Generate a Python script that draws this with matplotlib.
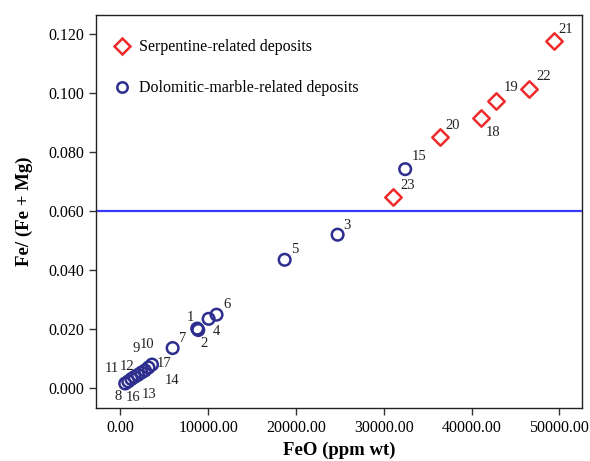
import matplotlib
matplotlib.use("Agg")
import matplotlib.pyplot as plt
from matplotlib.lines import Line2D

# données
serp_labels = ["23", "20", "18", "19", "22", "21"]
serp_feo = [31100, 36400, 41020, 42810, 46590, 49340]
serp_ratio = [0.0646, 0.0849, 0.0915, 0.0973, 0.1013, 0.1174]

dolo_labels = ["8", "11", "16", "12", "13", "9", "10", "14", "17",
               "7", "1", "2", "4", "6", "5", "3", "15"]
dolo_feo = [550, 900, 1250, 1600, 2000, 2400, 2800, 3200, 3600,
            5950, 8750, 8870, 10050, 10950, 18710, 24740, 32440]
dolo_ratio = [0.0015, 0.0022, 0.0030, 0.0037, 0.0044, 0.0052, 0.0059, 0.0069, 0.0079,
              0.0135, 0.0201, 0.0196, 0.0234, 0.0248, 0.0434, 0.0519, 0.0741]

threshold = 0.060
x_ticks = [0, 10000, 20000, 30000, 40000, 50000]
y_ticks = [0.000, 0.020, 0.040, 0.060, 0.080, 0.100, 0.120]

# décalage des étiquettes (pixels)
label_offset = {
    "8": (-7, -13), "11": (-16, 13), "16": (2, -18), "12": (-7, 10),
    "13": (11, -20), "9": (-5, 24), "10": (2, 26), "14": (24, -13),
    "17": (12, 1), "7": (10, 10), "1": (-7, 11), "2": (6, -13),
    "4": (8, -13), "6": (10, 10), "5": (10, 10), "3": (9, 9),
    "15": (14, 13), "23": (14, 12), "20": (13, 12), "18": (13, -15),
    "19": (15, 13), "22": (14, 12), "21": (12, 12),
}

plt.rcParams["font.family"] = ["Liberation Serif", "DejaVu Serif"]

RED = "#ee2a2a"
NAVY = "#2e2e8f"

fig = plt.figure(figsize=(5.9, 4.61), dpi=100)
ax = fig.add_axes([0.163, 0.115, 0.823, 0.853])

ax.axhline(threshold, color="#3a3aff", linewidth=1.6, zorder=1)

ax.scatter(serp_feo, serp_ratio, marker="D", s=70, facecolors="white",
           edgecolors=RED, linewidths=1.8, zorder=3)
ax.scatter(dolo_feo, dolo_ratio, marker="o", s=70, facecolors="none",
           edgecolors=NAVY, linewidths=1.8, zorder=3)

for lab, x, y in list(zip(serp_labels, serp_feo, serp_ratio)) + list(zip(dolo_labels, dolo_feo, dolo_ratio)):
    dx, dy = label_offset[lab]
    ax.annotate(lab, (x, y), xytext=(dx, dy), textcoords="offset pixels",
                ha="center", va="center", fontsize=10.5, color="#222222")

ax.set_xlim(-2760, 52550)
ax.set_ylim(-0.0068, 0.1264)
ax.set_xticks(x_ticks)
ax.set_xticklabels([f"{v:.2f}" for v in x_ticks])
ax.set_yticks(y_ticks)
ax.set_yticklabels([f"{v:.3f}" for v in y_ticks])
ax.tick_params(direction="out", length=5, width=1, labelsize=11.5, color="#333333")
for sp in ax.spines.values():
    sp.set_linewidth(1.0)
    sp.set_color("#222222")

ax.set_xlabel("FeO (ppm wt)", fontsize=13.5, fontweight="bold", labelpad=4)
ax.set_ylabel("Fe/ (Fe + Mg)", fontsize=13.5, fontweight="bold", labelpad=11)

handles = [
    Line2D([], [], marker="D", linestyle="none", markersize=8, markerfacecolor="white",
           markeredgecolor=RED, markeredgewidth=1.8, label="Serpentine-related deposits"),
    Line2D([], [], marker="o", linestyle="none", markersize=7.5, markerfacecolor="none",
           markeredgecolor=NAVY, markeredgewidth=1.8, label="Dolomitic-marble-related deposits"),
]
ax.legend(handles=handles, loc="upper left", bbox_to_anchor=(0.0, 0.978), frameon=False,
          fontsize=11.5, labelspacing=1.55, handletextpad=0.5, borderaxespad=0.6,
          handlelength=1.2)

fig.savefig("out.png", dpi=100)
